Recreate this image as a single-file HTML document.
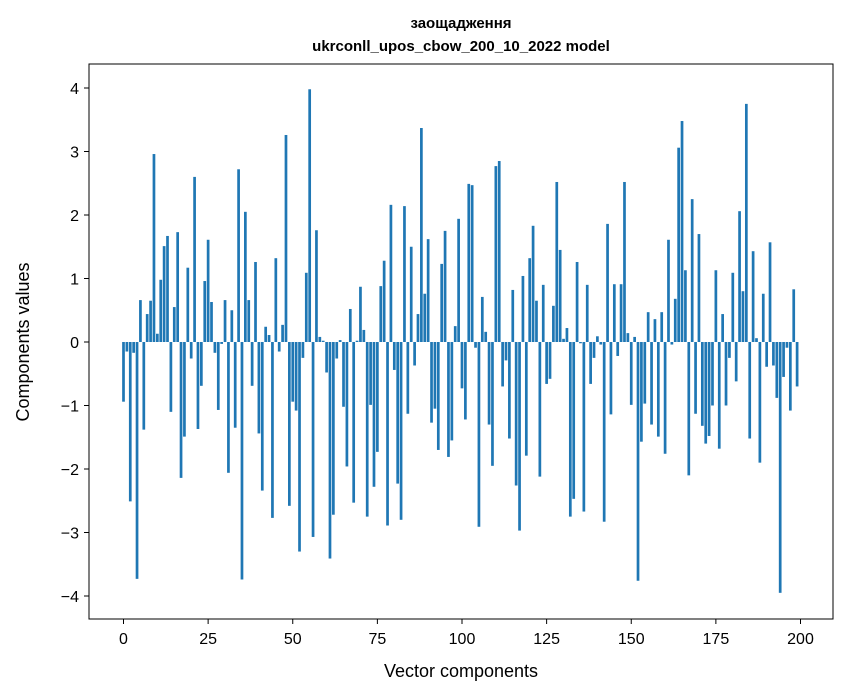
<!DOCTYPE html>
<html><head><meta charset="utf-8"><style>
body{margin:0;background:#fff}
svg{display:block;font-family:"Liberation Sans","DejaVu Sans",sans-serif}
</style></head><body>
<svg id="chart" width="847" height="696" viewBox="0 0 847 696">
<rect width="847" height="696" fill="#fff"/>
<text x="461" y="28" text-anchor="middle" font-size="15" font-weight="bold">заощадження</text>
<text x="461" y="51" text-anchor="middle" font-size="15" font-weight="bold">ukrconll_upos_cbow_200_10_2022 model</text>
<g id="bars"></g>
<g id="axes"></g>
<rect x="89" y="64" width="744" height="555" fill="none" stroke="#000" stroke-width="1"/>
<text x="461" y="677" text-anchor="middle" font-size="18">Vector components</text>
<text transform="translate(29,342) rotate(-90)" text-anchor="middle" font-size="18">Components values</text>
</svg>
<script>
const values=[-0.94,-0.15,-2.51,-0.17,-3.73,0.66,-1.38,0.44,0.65,2.96,0.13,0.98,1.51,1.67,-1.10,0.55,1.73,-2.14,-1.49,1.17,
-0.26,2.60,-1.37,-0.69,0.96,1.61,0.63,-0.17,-1.07,-0.03,0.66,-2.06,0.50,-1.35,2.72,-3.74,2.05,0.66,-0.69,1.26,
-1.44,-2.34,0.24,0.11,-2.77,1.32,-0.15,0.27,3.26,-2.58,-0.94,-1.08,-3.30,-0.25,1.09,3.98,-3.07,1.76,0.08,0.02,
-0.48,-3.41,-2.72,-0.26,0.03,-1.02,-1.96,0.52,-2.53,0.02,0.87,0.19,-2.75,-0.99,-2.28,-1.73,0.88,1.28,-2.89,2.16,
-0.44,-2.23,-2.80,2.14,-1.13,1.50,-0.37,0.44,3.37,0.76,1.62,-1.27,-1.05,-1.70,1.23,1.75,-1.81,-1.55,0.25,1.94,
-0.73,-1.22,2.49,2.47,-0.09,-2.91,0.71,0.16,-1.30,-1.95,2.77,2.85,-0.70,-0.29,-1.52,0.82,-2.26,-2.97,1.04,-1.79,
1.32,1.83,0.65,-2.12,0.90,-0.66,-0.58,0.57,2.52,1.45,0.05,0.22,-2.75,-2.47,1.26,-0.02,-2.67,0.90,-0.66,-0.25,
0.09,-0.04,-2.83,1.86,-1.14,0.91,-0.22,0.91,2.52,0.14,-0.99,0.08,-3.76,-1.57,-0.97,0.47,-1.30,0.36,-1.49,0.47,
-1.76,1.61,-0.04,0.68,3.06,3.48,1.13,-2.10,2.25,-1.13,1.70,-1.32,-1.60,-1.48,-1.00,1.13,-1.68,0.44,-1.00,-0.25,
1.09,-0.62,2.06,0.80,3.75,-1.52,1.43,0.06,-1.90,0.76,-0.39,1.57,-0.37,-0.88,-3.95,-0.55,-0.09,-1.08,0.83,-0.70];
const xTicks=[0,25,50,75,100,125,150,175,200];
const yTicks=[-4,-3,-2,-1,0,1,2,3,4];
const NS="http://www.w3.org/2000/svg";
function xScale(v){return 123.5+3.385*v;}
function yScale(v){return 342-63.5*v;}
const bars=document.getElementById('bars');
values.forEach((v,i)=>{
  const r=document.createElementNS(NS,'rect');
  
  
  const x0=xScale(i-0.4),x1=xScale(i+0.4);
  const y0=yScale(Math.max(v,0)),y1=yScale(Math.min(v,0));
  r.setAttribute('x',x0);r.setAttribute('width',x1-x0);
  r.setAttribute('y',y0);r.setAttribute('height',Math.max(y1-y0,0.3));
  r.setAttribute('fill','#1f77b4');
  bars.appendChild(r);
});
const axes=document.getElementById('axes');
xTicks.forEach(t=>{
  const l=document.createElementNS(NS,'line');
  
  
  l.setAttribute('x1',xScale(t));l.setAttribute('x2',xScale(t));
  l.setAttribute('y1',619);l.setAttribute('y2',624);l.setAttribute('stroke','#000');
  axes.appendChild(l);
  const tx=document.createElementNS(NS,'text');
  
  
  tx.setAttribute('x',xScale(t));tx.setAttribute('y',644);
  tx.setAttribute('text-anchor','middle');tx.setAttribute('font-size','16');
  tx.textContent=t;
  axes.appendChild(tx);
});
yTicks.forEach(t=>{
  const l=document.createElementNS(NS,'line');
  
  
  l.setAttribute('x1',84);l.setAttribute('x2',89);
  l.setAttribute('y1',yScale(t));l.setAttribute('y2',yScale(t));l.setAttribute('stroke','#000');
  axes.appendChild(l);
  const tx=document.createElementNS(NS,'text');
  
  
  tx.setAttribute('x',79);tx.setAttribute('y',yScale(t)+6);
  tx.setAttribute('text-anchor','end');tx.setAttribute('font-size','16');
  tx.textContent=t<0?'\u2212'+Math.abs(t):String(t);
  axes.appendChild(tx);
});
</script>
</body></html>
